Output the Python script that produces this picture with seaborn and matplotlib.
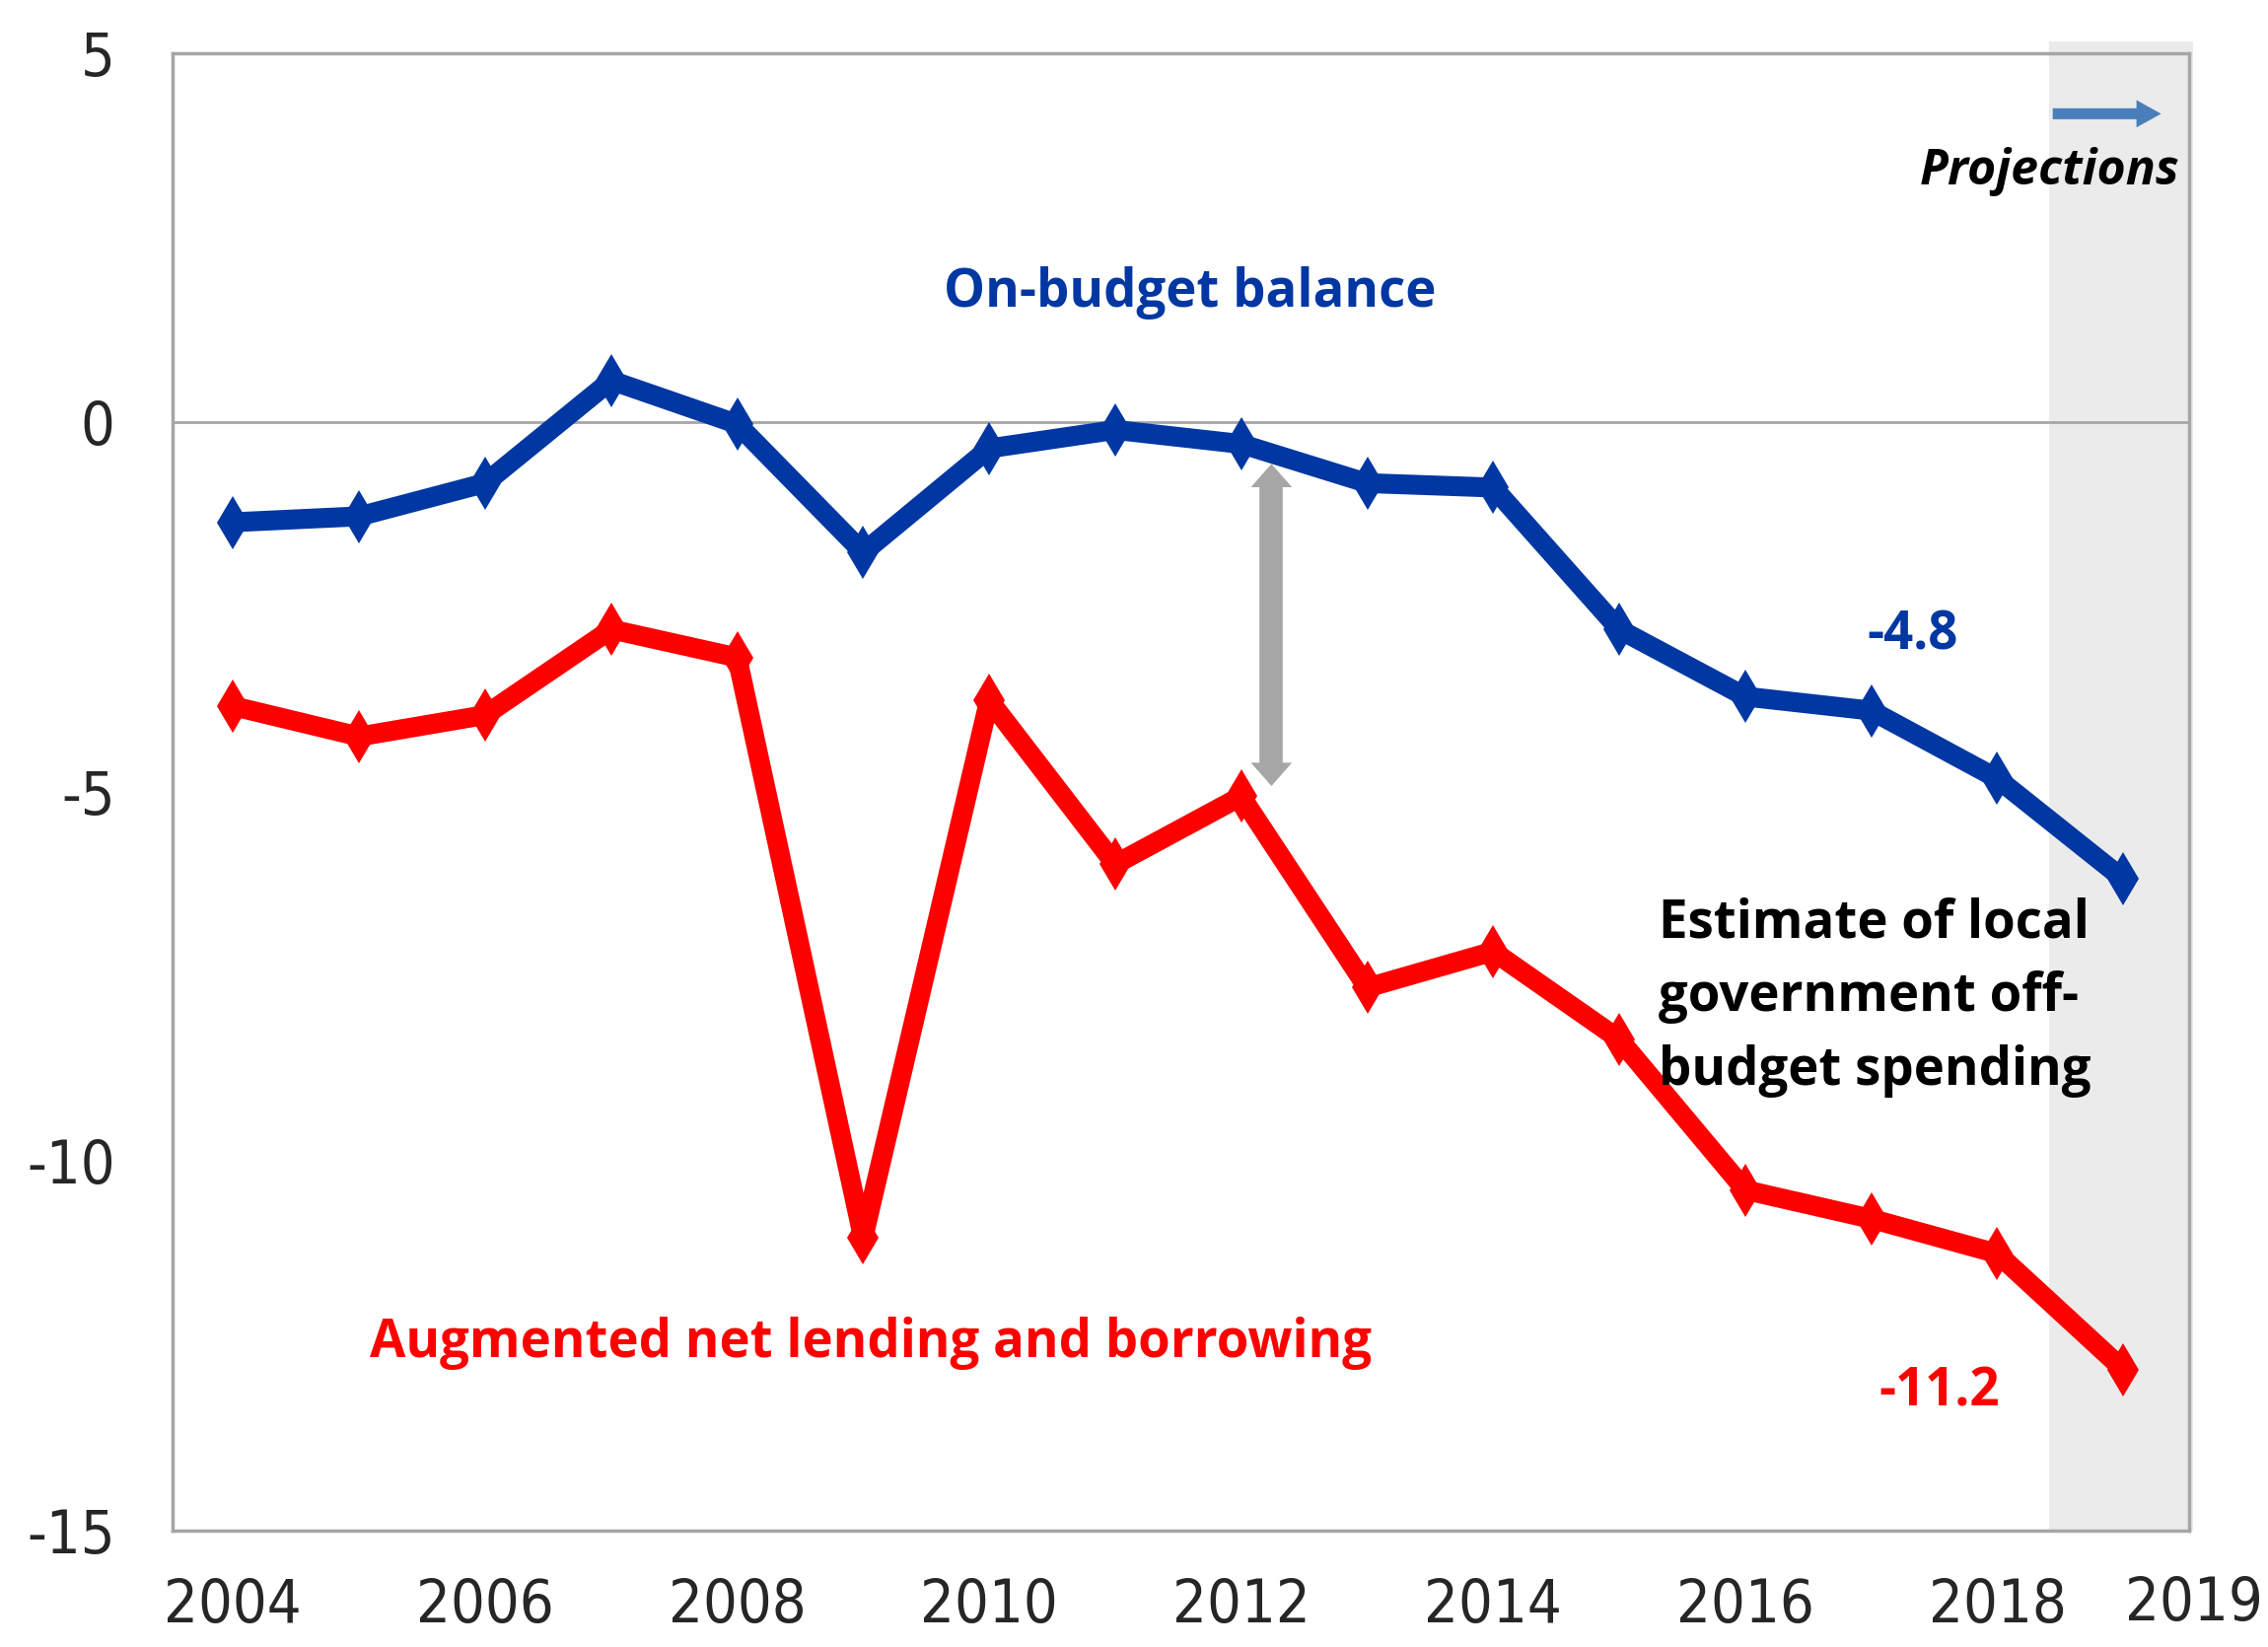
import matplotlib
matplotlib.use("Agg")
import matplotlib.pyplot as plt
from matplotlib.patches import FancyArrowPatch
import seaborn as sns
import pandas as pd

years = list(range(2004, 2020))
on_budget = [-1.35, -1.27, -0.82, 0.57, -0.02, -1.76, -0.35, -0.10, -0.29,
             -0.82, -0.88, -2.80, -3.71, -3.90, -4.82, -6.18]
augmented = [-3.84, -4.25, -3.96, -2.80, -3.18, -11.04, -3.76, -5.98, -5.06,
             -7.65, -7.16, -8.35, -10.39, -10.78, -11.25, -12.82]
year_ticks = [2004, 2006, 2008, 2010, 2012, 2014, 2016, 2018]
y_ticks = [5, 0, -5, -10, -15]

blue = "#0037A3"
red = "#FF0000"
grey = "#A6A6A6"

sns.set_style("white")
plt.rcParams['font.family'] = ['DejaVu Sans']
plt.rcParams['font.stretch'] = 'condensed'
bold = ['Open Sans', 'DejaVu Sans']

df = pd.DataFrame({'year': years, 'On-budget balance': on_budget,
                   'Augmented net lending and borrowing': augmented})

fig = plt.figure(figsize=(23, 16.7), dpi=100)
ax = fig.add_axes([0.0761, 0.0707, 0.889, 0.897])

# projections shading (pokes a little above the frame, like the original)
shade = ax.axvspan(2018.41, 2019.55, ymin=0, ymax=1.008, color="#EBEBEB", zorder=0, lw=0)
shade.set_clip_on(False)
ax.axhline(0, color=grey, lw=2, zorder=1)

sns.lineplot(data=df, x='year', y='On-budget balance', color=blue, lw=14.5,
             marker='d', markersize=27, markeredgewidth=0, ax=ax, zorder=3)
sns.lineplot(data=df, x='year', y='Augmented net lending and borrowing', color=red,
             lw=14.5, marker='d', markersize=27, markeredgewidth=0, ax=ax, zorder=3)

# gap arrow between the two lines in 2012: one shaft + two heads
gap_x, gap_top, gap_bot = 2012.24, -0.56, -4.92
ax.plot([gap_x, gap_x], [gap_top - 0.25, gap_bot + 0.25], color=grey, lw=17,
        solid_capstyle='butt', zorder=2)
for start, end in ((gap_top - 0.45, gap_top), (gap_bot + 0.45, gap_bot)):
    ax.add_patch(FancyArrowPatch((gap_x, start), (gap_x, end),
                                 arrowstyle='simple,head_length=1.7,head_width=3.0,tail_width=1.2',
                                 mutation_scale=10, color=grey, lw=0,
                                 shrinkA=0, shrinkB=0, zorder=2))
# projections arrow
ax.add_patch(FancyArrowPatch((2018.44, 4.18), (2019.30, 4.18),
                             arrowstyle='simple,head_length=1.8,head_width=2.0,tail_width=0.8',
                             mutation_scale=10, color="#4A7EBB", lw=0,
                             shrinkA=0, shrinkB=0, zorder=4))

ax.text(2019.45, 3.40, 'Projections', ha='right', va='center', fontsize=36,
        fontweight='bold', fontstyle='italic', family=bold, color='black')
ax.text(2011.59, 1.76, 'On-budget balance', ha='center', va='center', fontsize=38,
        fontweight='bold', family=bold, color=blue)
ax.text(2017.33, -2.88, '-4.8', ha='center', va='center', fontsize=38,
        fontweight='bold', family=bold, color=blue)
ax.text(2009.06, -12.47, 'Augmented net lending and borrowing', ha='center',
        va='center', fontsize=38, fontweight='bold', family=bold, color=red)
ax.text(2017.54, -13.12, '-11.2', ha='center', va='center', fontsize=38,
        fontweight='bold', family=bold, color=red)
ax.text(2015.31, -7.78, 'Estimate of local\ngovernment off-\nbudget spending',
        ha='left', va='center', fontsize=38, fontweight='bold', family=bold,
        color='black', linespacing=1.5)

ax.set_xlim(2003.52, 2019.52)
ax.set_ylim(-15, 5)
ax.set_xticks(year_ticks)
ax.set_xticklabels([str(y) for y in year_ticks])
ax.set_yticks(y_ticks)
ax.set_yticklabels([str(v) for v in y_ticks])
ax.tick_params(axis='x', length=0, pad=34, labelsize=44)
ax.tick_params(axis='y', length=0, pad=42, labelsize=44)
ax.text(2019.56, -16.0, '2019', ha='center', va='center', fontsize=44, clip_on=False)
ax.set_xlabel('')
ax.set_ylabel('')
for s in ax.spines.values():
    s.set_color(grey)
    s.set_linewidth(2.5)

fig.savefig('out.png', dpi=100)
